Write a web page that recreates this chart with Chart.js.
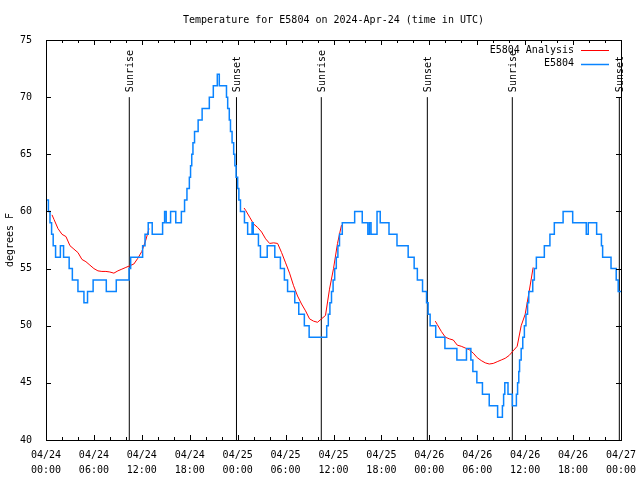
<!DOCTYPE html>
<html>
<head>
<meta charset="utf-8">
<script src="https://cdn.jsdelivr.net/npm/chart.js@4"></script>
<style>
  body { margin: 0; background: #fff; }
  canvas { display: block; }
</style>
</head>
<body>
<canvas id="chart" width="640" height="480"></canvas>
<script>
// hours since 04/24 00:00 UTC where the observed temperature changes level
const obsHours = [0.0, 0.3, 0.5, 0.7, 0.9, 1.2, 1.8, 2.2, 2.9, 3.3, 4.0, 4.75, 5.2, 5.9, 7.55, 8.8, 10.4, 10.6, 12.1, 12.4,
    12.8, 13.3, 14.6, 14.85, 15.05, 15.6, 16.25, 16.95, 17.35, 17.65, 17.95, 18.1, 18.25, 18.4, 18.6, 19.05, 19.55, 20.45, 20.95, 21.45,
    21.7, 22.6, 22.75, 22.95, 23.1, 23.3, 23.5, 23.65, 23.8, 24.0, 24.15, 24.35, 24.85, 25.25, 25.8, 25.95, 26.6, 26.85, 27.7, 28.65,
    29.35, 29.85, 30.25, 31.15, 31.65, 32.35, 32.95, 35.15, 35.35, 35.55, 35.75, 35.95, 36.15, 36.35, 36.55, 36.75, 37.1, 38.65, 39.6, 40.3,
    40.5, 40.7, 41.45, 41.85, 42.95, 43.95, 45.35, 46.1, 46.5, 47.15, 47.65, 47.85, 48.1, 48.8, 49.95, 51.45, 52.65, 53.2, 53.45, 53.95,
    54.65, 55.5, 56.55, 57.15, 57.3, 57.45, 57.85, 58.4, 58.9, 59.05, 59.2, 59.3, 59.5, 59.7, 59.9, 60.1, 60.3, 60.45, 60.95, 61.15,
    61.4, 62.4, 63.1, 63.65, 64.75, 65.95, 67.65, 67.9, 68.95, 69.55, 69.7, 70.75, 71.4, 71.65, 72.0];
const obsTemps = [61, 60, 59, 58, 57, 56, 57, 56, 55, 54, 53, 52, 53, 54, 53, 54, 55, 56, 57, 58,
    59, 58, 59, 60, 59, 60, 59, 60, 61, 62, 63, 64, 65, 66, 67, 68, 69, 70, 71, 72,
    71, 70, 69, 68, 67, 66, 65, 64, 63, 62, 61, 60, 59, 58, 59, 58, 57, 56, 57, 56,
    55, 54, 53, 52, 51, 50, 49, 50, 51, 52, 53, 54, 55, 56, 57, 58, 59, 60, 59, 58,
    59, 58, 60, 59, 58, 57, 56, 55, 54, 53, 52, 51, 50, 49, 48, 47, 48, 47, 46, 45,
    44, 43, 42, 43, 44, 45, 44, 43, 44, 45, 46, 47, 48, 49, 50, 51, 52, 53, 54, 55,
    56, 57, 58, 59, 60, 59, 58, 59, 58, 57, 56, 55, 54, 53, 53];

// analysis series, null marks the gaps between runs
const anaHours = [0.75, 1, 1.5, 2, 2.5, 3, 3.5, 4, 4.5, 5, 5.5, 6, 6.5, 7, 7.5, 8, 8.5, 9, 9.5, 10, 10.5, 11, 11.5, 12, 12.5, 12.9,
    18,
    24.8, 25, 25.5, 26, 26.5, 27, 27.5, 28, 28.5, 29, 29.5, 30, 30.5, 31, 31.5, 32, 32.5, 33, 33.5, 34, 34.5, 35, 35.5, 36, 36.5, 37,
    43,
    48.75, 49, 49.5, 50, 50.5, 51, 51.5, 52, 52.5, 53, 53.5, 54, 54.5, 55, 55.5, 56, 56.5, 57, 57.5, 58, 58.5, 59, 59.5, 60, 60.5, 61];
const anaTemps = [59.7, 59.3, 58.5, 58.0, 57.8, 57.0, 56.7, 56.4, 55.8, 55.6, 55.3, 55.0, 54.8, 54.75, 54.75, 54.7, 54.6, 54.8, 54.95, 55.1, 55.25, 55.4, 55.9, 56.5, 57.5, 58.5,
    null,
    60.3, 60.1, 59.5, 58.9, 58.6, 58.2, 57.6, 57.2, 57.25, 57.2, 56.4, 55.5, 54.6, 53.5, 52.6, 51.9, 51.3, 50.6, 50.4, 50.3, 50.6, 50.9, 53.2, 55.0, 57.2, 58.8,
    null,
    50.4, 50.1, 49.5, 49.0, 48.85, 48.75, 48.3, 48.2, 48.05, 47.9, 47.6, 47.2, 46.95, 46.75, 46.65, 46.7, 46.85, 47.0, 47.15, 47.4, 47.8, 48.2, 50.0, 51.0, 53.0, 55.1];

const eventHours = [10.43, 23.85, 34.47, 47.75, 58.39, 71.79];
const eventLabels = ["Sunrise", "Sunset", "Sunrise", "Sunset", "Sunrise", "Sunset"];

const dayLabels = ["04/24", "04/24", "04/24", "04/24", "04/25", "04/25", "04/25", "04/25", "04/26", "04/26", "04/26", "04/26", "04/27"];
const timeLabels = ["00:00", "06:00", "12:00", "18:00", "00:00", "06:00", "12:00", "18:00", "00:00", "06:00", "12:00", "18:00", "00:00"];

const seriesNames = ["E5804 Analysis", "E5804"];
const titleText = "Temperature for E5804 on 2024-Apr-24 (time in UTC)";
const yTitle = "degrees F";

const FONT = "DejaVu Sans Mono";
const BLUE = "#0a84ff";
const RED = "#ff0000";

const eventPoints = [];
eventHours.forEach(h => {
    eventPoints.push({ x: h, y: 40 }, { x: h, y: 70 }, { x: h, y: null });
});

const framePlugin = {
    id: "frame",
    afterDraw(chart) {
        const ctx = chart.ctx;
        const a = chart.chartArea;
        const xs = chart.scales.x;
        const ys = chart.scales.y;
        ctx.save();
        ctx.strokeStyle = "#000";
        ctx.lineWidth = 1;

        // border box
        ctx.strokeRect(Math.round(a.left) + 0.5, Math.round(a.top) + 0.5,
            Math.round(a.right - a.left), Math.round(a.bottom - a.top));

        // inward ticks
        ctx.beginPath();
        for (let h = 0; h <= 72; h += 2) {
            const px = Math.round(xs.getPixelForValue(h)) + 0.5;
            const len = h % 6 === 0 ? 5 : 3;
            ctx.moveTo(px, a.bottom); ctx.lineTo(px, a.bottom - len);
            ctx.moveTo(px, a.top); ctx.lineTo(px, a.top + len);
        }
        ys.ticks.forEach(t => {
            const py = Math.round(ys.getPixelForValue(t.value)) + 0.5;
            ctx.moveTo(a.left, py); ctx.lineTo(a.left + 5, py);
            ctx.moveTo(a.right, py); ctx.lineTo(a.right - 5, py);
        });
        ctx.stroke();

        ctx.fillStyle = "#000";
        ctx.font = "10px '" + FONT + "'";

        // title
        ctx.textAlign = "center";
        ctx.textBaseline = "middle";
        ctx.fillText(titleText, (a.left + a.right) / 2, 20);

        // y axis title
        ctx.save();
        ctx.translate(10, (a.top + a.bottom) / 2);
        ctx.rotate(-Math.PI / 2);
        ctx.fillText(yTitle, 0, 0);
        ctx.restore();

        // event labels
        eventHours.forEach((h, i) => {
            const px = xs.getPixelForValue(h) + 1;
            const py = ys.getPixelForValue(70) - 5;
            ctx.save();
            ctx.translate(px, py);
            ctx.rotate(-Math.PI / 2);
            ctx.textAlign = "left";
            ctx.fillText(eventLabels[i], 0, 0);
            ctx.restore();
        });

        // legend
        const colors = [RED, BLUE];
        seriesNames.forEach((name, i) => {
            const y = a.top + 10 + i * 13.5;
            ctx.textAlign = "right";
            ctx.fillStyle = "#000";
            ctx.fillText(name, a.right - 47, y);
            ctx.strokeStyle = colors[i];
            ctx.lineWidth = i === 0 ? 1 : 1.5;
            ctx.beginPath();
            ctx.moveTo(a.right - 40, Math.round(y) + 0.5);
            ctx.lineTo(a.right - 12, Math.round(y) + 0.5);
            ctx.stroke();
        });
        ctx.restore();
    }
};

new Chart(document.getElementById("chart"), {
    type: "line",
    data: {
        datasets: [
            {
                label: seriesNames[1],
                data: obsHours.map((h, i) => ({ x: h, y: obsTemps[i] })),
                borderColor: BLUE,
                borderWidth: 1.5,
                stepped: true,
                pointRadius: 0
            },
            {
                label: seriesNames[0],
                data: anaHours.map((h, i) => ({ x: h, y: anaTemps[i] })),
                borderColor: RED,
                borderWidth: 1,
                spanGaps: false,
                pointRadius: 0
            },
            {
                label: "events",
                data: eventPoints,
                borderColor: "#000",
                borderWidth: 1,
                spanGaps: false,
                pointRadius: 0
            }
        ]
    },
    options: {
        responsive: false,
        animation: false,
        layout: { padding: { top: 40, right: 19, left: 0, bottom: 0 } },
        plugins: {
            legend: { display: false },
            tooltip: { enabled: false }
        },
        scales: {
            x: {
                type: "linear",
                min: 0,
                max: 72,
                afterFit: s => { s.height = 40; s.paddingLeft = 0; s.paddingRight = 0; },
                grid: { display: false },
                border: { display: false },
                ticks: {
                    stepSize: 6,
                    autoSkip: false,
                    maxRotation: 0,
                    padding: 0,
                    color: "#000",
                    font: { family: FONT, size: 10, lineHeight: 1.5 },
                    callback: (v, i) => [dayLabels[i], timeLabels[i]]
                }
            },
            y: {
                min: 40,
                max: 75,
                afterFit: s => { s.width = 46; s.paddingTop = 0; s.paddingBottom = 0; },
                grid: { display: false },
                border: { display: false },
                ticks: {
                    stepSize: 5,
                    padding: 6,
                    color: "#000",
                    font: { family: FONT, size: 10 }
                }
            }
        }
    },
    plugins: [framePlugin]
});
</script>
</body>
</html>
